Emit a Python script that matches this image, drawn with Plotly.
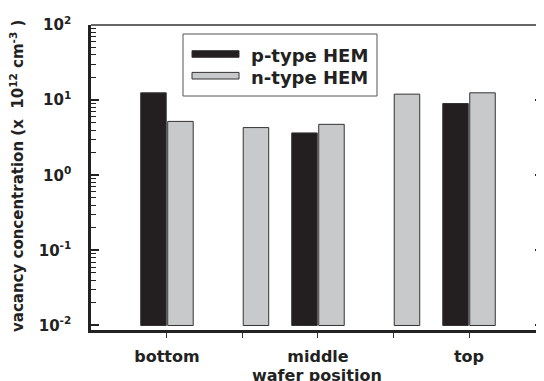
import plotly.graph_objects as go

# ---- data ----
position_labels = ["bottom", "", "middle", "", "top"]
position_ticks = [0, 0.5, 1, 1.5, 2]
p_name = "p-type HEM"
n_name = "n-type HEM"
p_x = [0, 1, 2]
p_vals = [12.5, 3.65, 9.0]
n_x = [0, 0.5, 1, 1.5, 2]
n_vals = [5.2, 4.3, 4.75, 12.0, 12.5]
y_tickvals = [0.01, 0.1, 1, 10, 100]
y_ticktext = ["10<sup>-2</sup>", "10<sup>-1</sup>", "10<sup>0</sup>", "10<sup>1</sup>", "10<sup>2</sup>"]
x_title = "wafer position"
y_title = "vacancy concentration (x\u00a0\u00a010<sup>12</sup> cm<sup>-3</sup>\u00a0)"

# the page has an 8px body margin, so the figure is 8px smaller than the window
OFF = 8
W, H = 544 - OFF, 381 - OFF
ML, MR, MT, MB = 91 - OFF, 1, 25 - OFF, 51
PW, PH = W - ML - MR, H - MT - MB
FONT = "DejaVu Sans"
P_COLOR = "#231f20"
N_COLOR = "#c8c9cb"
EDGE = "#333333"
TXT = "#222"


def px_x(px):
    return (px - OFF - ML) / PW


def px_y(py):
    return (MT + PH - (py - OFF)) / PH


fig = go.Figure()
fig.add_trace(go.Bar(x=p_x, y=p_vals, base=0.01, name=p_name, showlegend=False,
                     marker=dict(color=P_COLOR, line=dict(color=EDGE, width=1))))
fig.add_trace(go.Bar(x=n_x, y=n_vals, base=0.01, name=n_name, showlegend=False,
                     marker=dict(color=N_COLOR, line=dict(color=EDGE, width=1))))

minor_vals = [m * 10 ** e for e in range(-2, 2) for m in range(2, 10)]

fig.update_layout(
    width=W, height=H,
    margin=dict(l=ML, r=MR, t=MT, b=MB, autoexpand=False),
    paper_bgcolor="white", plot_bgcolor="white",
    barmode="group", bargap=0.285, bargroupgap=0.055,
    font=dict(family=FONT, color=TXT, weight="bold"),
    xaxis=dict(
        range=[-0.503, 2.49], tickmode="array", tickvals=position_ticks, ticktext=position_labels,
        ticks="outside", ticklen=5, tickwidth=1, tickcolor="#333",
        showline=True, linewidth=2.5, linecolor=TXT, mirror=False,
        showgrid=False, zeroline=False, automargin=False,
        tickfont=dict(family=FONT, size=16, weight="bold", color=TXT),
        ticklabelstandoff=5,
    ),
    yaxis=dict(
        type="log", range=[-2.06, 2], tickmode="array", tickvals=y_tickvals, ticktext=y_ticktext,
        ticks="inside", ticklen=8, tickwidth=1.5, tickcolor=TXT,
        minor=dict(tickmode="array", tickvals=minor_vals, ticks="inside", ticklen=5,
                   tickwidth=1, tickcolor=TXT, showgrid=False),
        showline=True, linewidth=2.5, linecolor=TXT, mirror="ticks",
        showgrid=False, zeroline=False, automargin=False,
        tickfont=dict(family=FONT, size=15, weight="bold", color=TXT),
        ticklabelstandoff=14,
    ),
)

# axis titles
fig.add_annotation(xref="paper", yref="paper", x=px_x(17), y=px_y(176), textangle=-90,
                   xanchor="center", yanchor="middle", showarrow=False, text=y_title,
                   font=dict(family=FONT, size=15, weight="bold", color=TXT))
fig.add_annotation(xref="paper", yref="paper", x=px_x(317), y=px_y(376),
                   xanchor="center", yanchor="middle", showarrow=False, text=x_title,
                   font=dict(family=FONT, size=16, weight="bold", color=TXT))

# top frame line
fig.add_shape(type="line", xref="paper", yref="paper", x0=0, x1=1, y0=1, y1=1,
              line=dict(color="#333", width=1.5))

# legend box (drawn manually to get the wide swatches)
fig.add_shape(type="rect", xref="paper", yref="paper",
              x0=px_x(183), x1=px_x(377), y0=px_y(96), y1=px_y(34),
              line=dict(color="#555", width=1), fillcolor="white")
legend_rows = [(p_name, P_COLOR, 54), (n_name, N_COLOR, 75.7)]
for name, color, cy in legend_rows:
    fig.add_shape(type="rect", xref="paper", yref="paper",
                  x0=px_x(192), x1=px_x(239), y0=px_y(cy + 3.3), y1=px_y(cy - 3.3),
                  line=dict(color=EDGE, width=1), fillcolor=color)
    fig.add_annotation(xref="paper", yref="paper", x=px_x(249), y=px_y(cy + 1.5),
                       xanchor="left", yanchor="middle", showarrow=False, text=name,
                       font=dict(family=FONT, size=18, weight="bold", color=TXT))

fig.write_html("out.html")
